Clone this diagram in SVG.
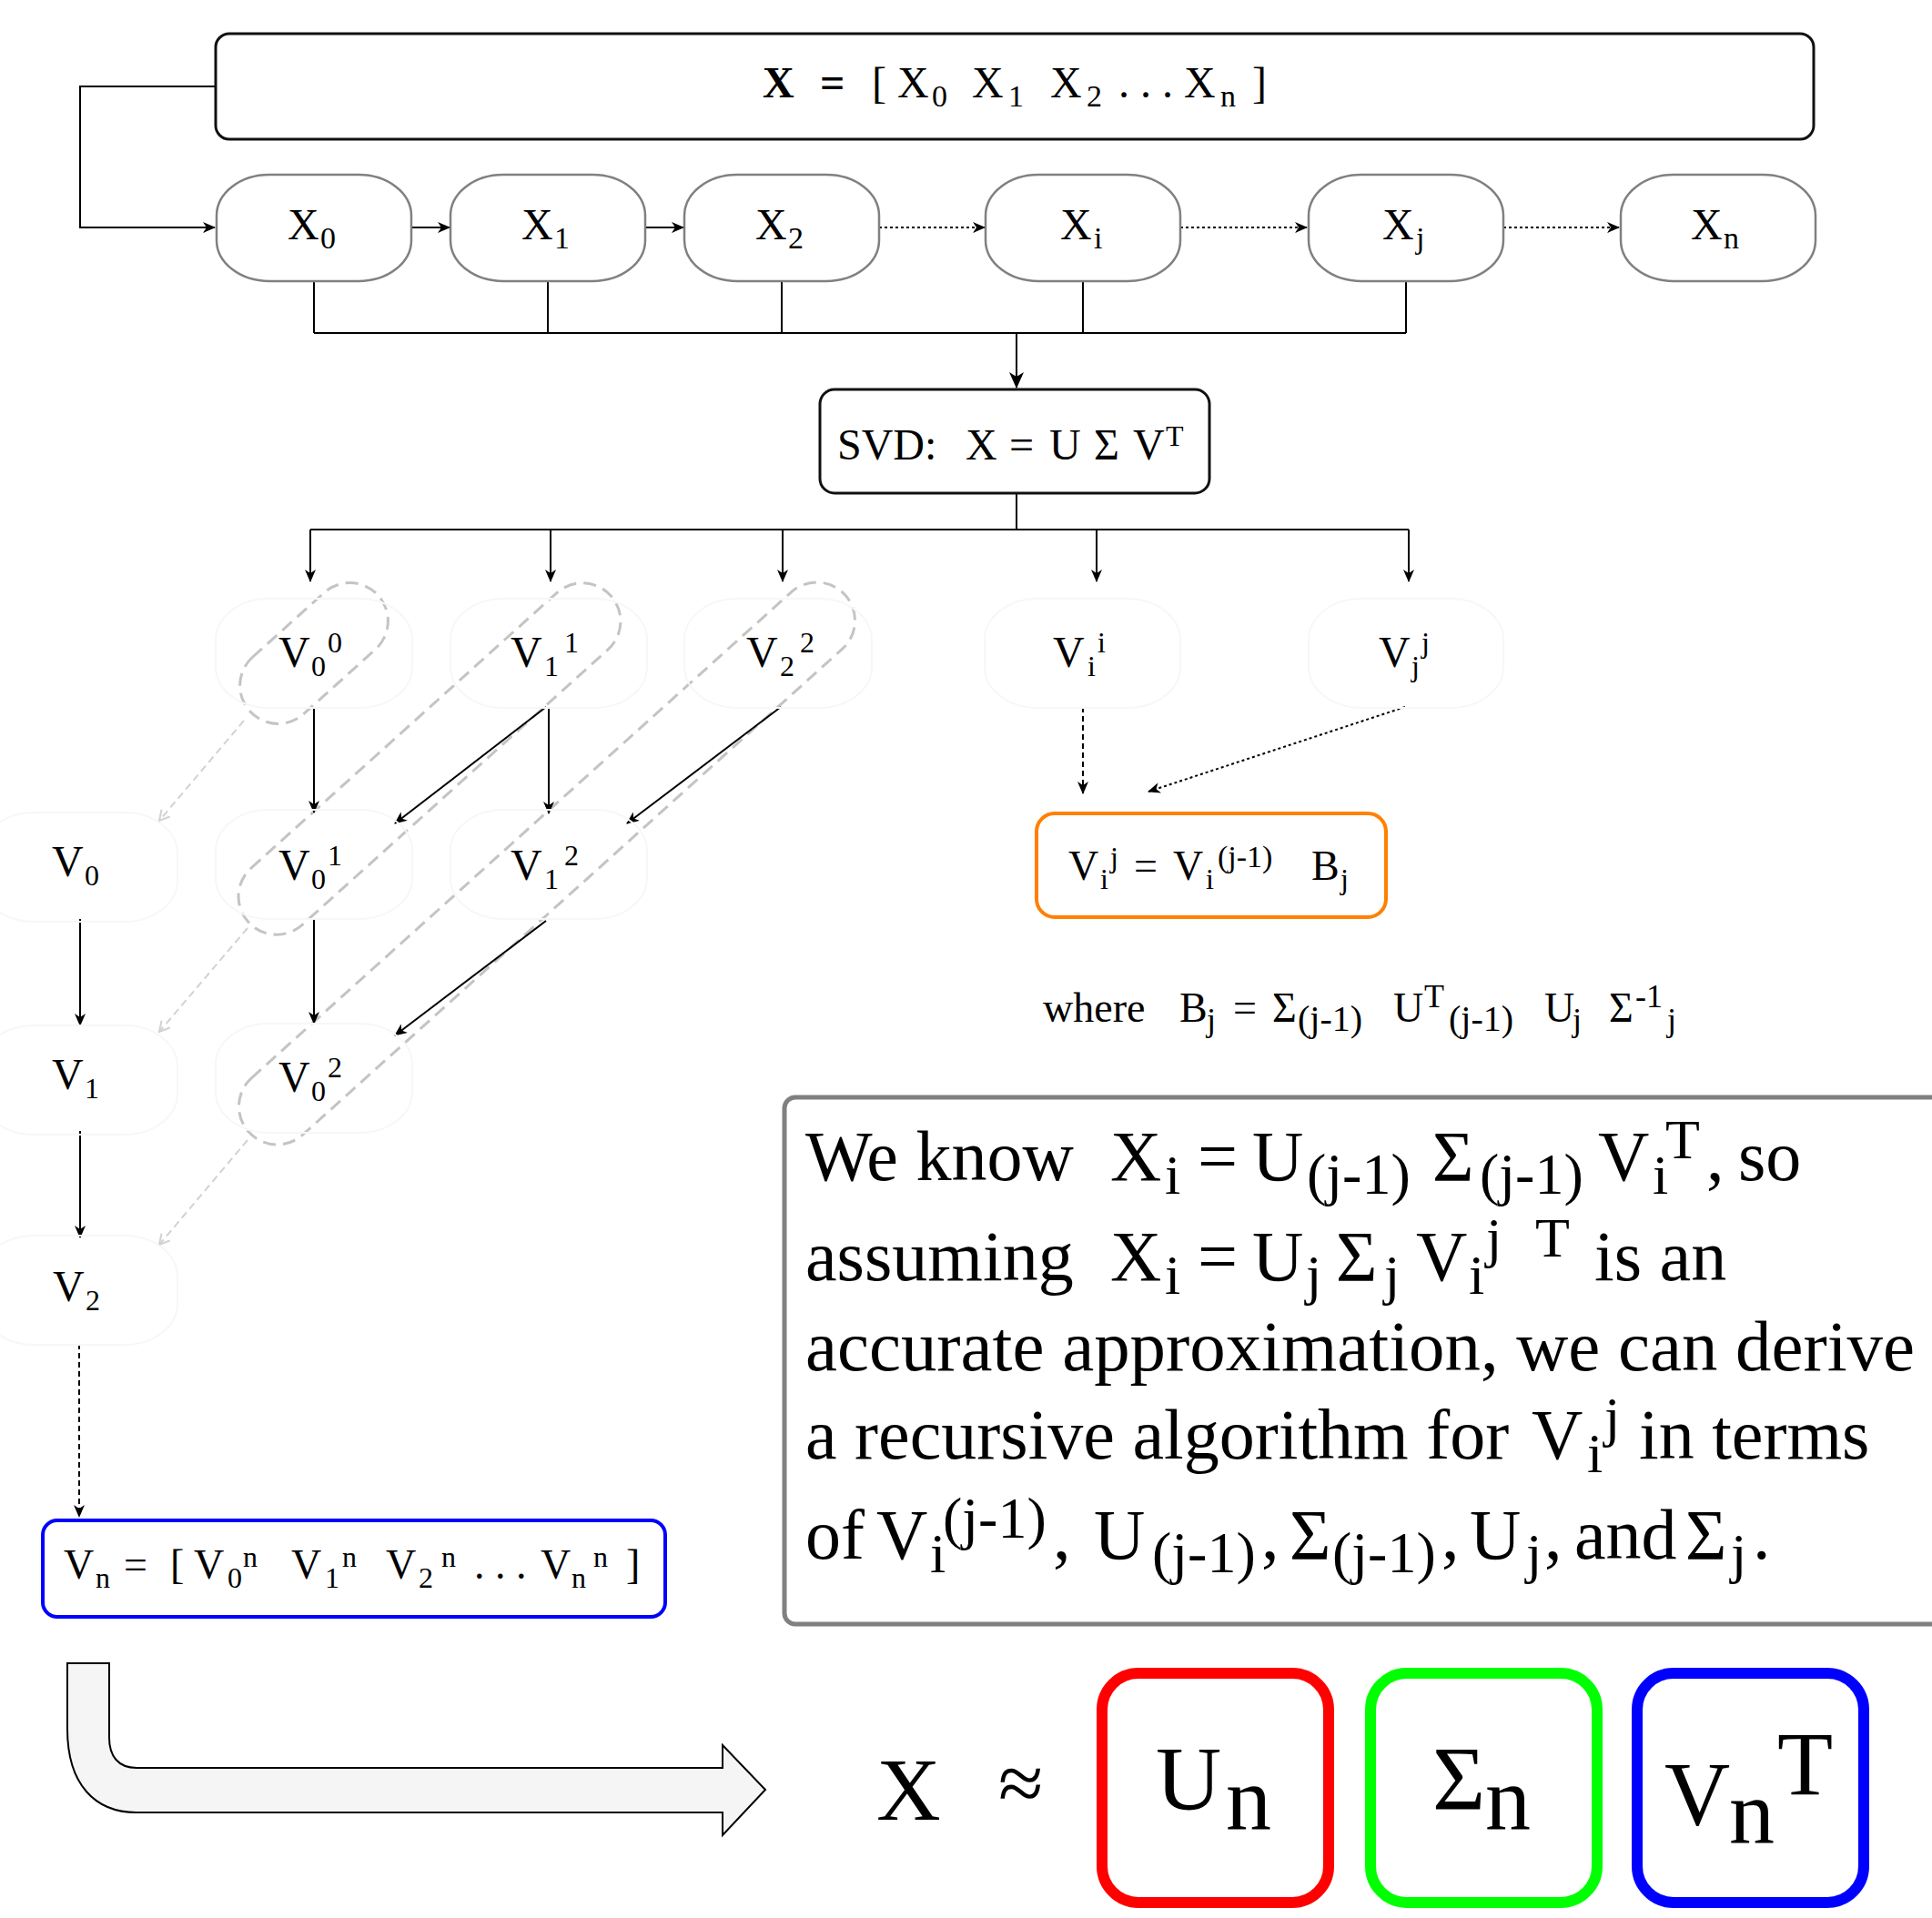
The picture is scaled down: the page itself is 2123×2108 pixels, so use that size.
<svg xmlns="http://www.w3.org/2000/svg" width="2123" height="2108" viewBox="0 0 2123 2108">
<style>
.t { font-family: "Liberation Serif", "Times New Roman", serif; fill: #000; }
.node { fill: #fff; stroke: #808080; stroke-width: 2.5; }
.ghost { fill: none; stroke: #f7f7f7; stroke-width: 2; }
.cap { fill: none; stroke: #c4c4c4; stroke-width: 3; stroke-dasharray: 14 8; }
.ln { fill: none; stroke: #000; stroke-width: 2; }
.dot { stroke-dasharray: 3 3; }
.dash { stroke-dasharray: 6 4; }
.lg { fill: none; stroke: #d2d2d2; stroke-width: 2; stroke-dasharray: 8 5; }
</style>
<defs>
<marker id="ah" viewBox="0 0 14 12" refX="13" refY="6" markerWidth="14" markerHeight="12" markerUnits="userSpaceOnUse" orient="auto"><path d="M0,0 L14,6 L0,12 L4,6 z" fill="#000"/></marker>
<marker id="ahb" viewBox="0 0 18 16" refX="17" refY="8" markerWidth="18" markerHeight="16" markerUnits="userSpaceOnUse" orient="auto"><path d="M0,0 L18,8 L0,16 L5,8 z" fill="#000"/></marker>
<marker id="ahg" viewBox="0 0 14 14" refX="12" refY="7" markerWidth="14" markerHeight="14" markerUnits="userSpaceOnUse" orient="auto"><path d="M1,1 L12,7 L1,13" fill="none" stroke="#d2d2d2" stroke-width="2"/></marker>
</defs>
<rect width="2123" height="2108" fill="#fff"/>

<!-- dashed grouping capsules -->
<g id="groups">
<rect class="cap" x="-95" y="-42" width="190" height="84" rx="42" transform="translate(345,718) rotate(-42)"/>
<rect class="cap" x="-268" y="-42" width="536" height="84" rx="42" transform="translate(472,834) rotate(-42)"/>
<rect class="cap" x="-441" y="-42" width="882" height="84" rx="42" transform="translate(601,949) rotate(-42)"/>
</g>

<g id="connectors">
<path class="ln" d="M237,95 H88 V250 H236" marker-end="url(#ah)"/>
<path class="ln" d="M452,250 H494" marker-end="url(#ah)"/>
<path class="ln" d="M708,250 H751" marker-end="url(#ah)"/>
<path class="ln dot" d="M966,250 H1082" marker-end="url(#ah)"/>
<path class="ln dot" d="M1297,250 H1436" marker-end="url(#ah)"/>
<path class="ln dot" d="M1652,250 H1779" marker-end="url(#ah)"/>
<path class="ln" stroke-width="1.6" d="M345,310 V366 M602,310 V366 M859,310 V366 M1190,310 V366 M1545,310 V366 M345,366 H1545"/>
<path class="ln" stroke-width="3" d="M1117,366 V426" marker-end="url(#ahb)"/>
<path class="ln" d="M1117,543 V582 M341,582 H1548"/>
<path class="ln" d="M341,582 V639" marker-end="url(#ah)"/>
<path class="ln" d="M605,582 V639" marker-end="url(#ah)"/>
<path class="ln" d="M860,582 V639" marker-end="url(#ah)"/>
<path class="ln" d="M1205,582 V639" marker-end="url(#ah)"/>
<path class="ln" d="M1548,582 V639" marker-end="url(#ah)"/>
<path class="ln" d="M345,778 V893" marker-end="url(#ah)"/>
<path class="ln" d="M603,778 V894" marker-end="url(#ah)"/>
<path class="ln" d="M600,777 L434,905" marker-end="url(#ah)"/>
<path class="ln" d="M858,777 L689,905" marker-end="url(#ah)"/>
<path class="ln" d="M345,1010 V1125" marker-end="url(#ah)"/>
<path class="ln" d="M600,1012 L434,1138" marker-end="url(#ah)"/>
<path class="ln" d="M88,1010 V1127" marker-end="url(#ah)"/>
<path class="ln" d="M88,1243 V1360" marker-end="url(#ah)"/>
<path class="ln dash" stroke-width="1.6" d="M87,1477 V1667" marker-end="url(#ah)"/>
<path class="ln dash" stroke-width="1.6" d="M1190,777 V872" marker-end="url(#ah)"/>
<path class="ln dot" d="M1544,777 L1262,870" marker-end="url(#ah)"/>
<path class="lg" d="M268,792 L175,902" marker-end="url(#ahg)"/>
<path class="lg" d="M272,1020 L175,1134" marker-end="url(#ahg)"/>
<path class="lg" d="M272,1253 L175,1368" marker-end="url(#ahg)"/>
</g>

<g id="node-X">
<rect x="237" y="37" width="1756" height="116" rx="15" fill="#fff" stroke="#111" stroke-width="3"/>
<text class="t" font-size="48"><tspan x="838" y="107" font-weight="bold">X</tspan><tspan x="901" y="107" font-weight="bold">=</tspan><tspan x="958" y="107">[</tspan><tspan x="986" y="107">X</tspan><tspan x="1024" y="117" font-size="34">0</tspan><tspan x="1068" y="107">X</tspan><tspan x="1108" y="117" font-size="34">1</tspan><tspan x="1154" y="107">X</tspan><tspan x="1194" y="117" font-size="34">2</tspan><tspan x="1229" y="107">. . .</tspan><tspan x="1301" y="107">X</tspan><tspan x="1341" y="117" font-size="34">n</tspan><tspan x="1376" y="107">]</tspan></text>
</g>

<g id="node-X0"><rect class="node" x="238" y="192" width="214" height="117" rx="58" ry="45"/><text class="t" font-size="48"><tspan x="316" y="263">X</tspan><tspan x="352" y="273" font-size="34">0</tspan></text></g>
<g id="node-X1"><rect class="node" x="495" y="192" width="214" height="117" rx="58" ry="45"/><text class="t" font-size="48"><tspan x="573" y="263">X</tspan><tspan x="609" y="273" font-size="34">1</tspan></text></g>
<g id="node-X2"><rect class="node" x="752" y="192" width="214" height="117" rx="58" ry="45"/><text class="t" font-size="48"><tspan x="830" y="263">X</tspan><tspan x="866" y="273" font-size="34">2</tspan></text></g>
<g id="node-Xi"><rect class="node" x="1083" y="192" width="214" height="117" rx="58" ry="45"/><text class="t" font-size="48"><tspan x="1165" y="263">X</tspan><tspan x="1202" y="273" font-size="34">i</tspan></text></g>
<g id="node-Xj"><rect class="node" x="1438" y="192" width="214" height="117" rx="58" ry="45"/><text class="t" font-size="48"><tspan x="1519" y="263">X</tspan><tspan x="1556" y="273" font-size="34">j</tspan></text></g>
<g id="node-Xn"><rect class="node" x="1781" y="192" width="214" height="117" rx="58" ry="45"/><text class="t" font-size="48"><tspan x="1858" y="263">X</tspan><tspan x="1894" y="273" font-size="34">n</tspan></text></g>

<g id="node-SVD">
<rect x="901" y="428" width="428" height="114" rx="16" fill="#fff" stroke="#111" stroke-width="3"/>
<text class="t" font-size="48"><tspan x="920" y="505">SVD:</tspan><tspan x="1061" y="505">X</tspan><tspan x="1109" y="505">=</tspan><tspan x="1153" y="505">U</tspan><tspan x="1202" y="505">Σ</tspan><tspan x="1245" y="505">V</tspan><tspan x="1281" y="490" font-size="32">T</tspan></text>
</g>

<g id="node-V00"><rect class="ghost" x="237" y="658" width="216" height="120" rx="58" ry="45"/><text class="t" font-size="48"><tspan x="306" y="733">V</tspan><tspan x="342" y="743" font-size="32">0</tspan><tspan x="360" y="717" font-size="32">0</tspan></text></g>
<g id="node-V11"><rect class="ghost" x="495" y="658" width="216" height="120" rx="58" ry="45"/><text class="t" font-size="48"><tspan x="561" y="733">V</tspan><tspan x="598" y="743" font-size="32">1</tspan><tspan x="620" y="717" font-size="32">1</tspan></text></g>
<g id="node-V22"><rect class="ghost" x="752" y="658" width="206" height="120" rx="58" ry="45"/><text class="t" font-size="48"><tspan x="820" y="733">V</tspan><tspan x="857" y="743" font-size="32">2</tspan><tspan x="879" y="717" font-size="32">2</tspan></text></g>
<g id="node-Vii"><rect class="ghost" x="1082" y="658" width="215" height="120" rx="58" ry="45"/><text class="t" font-size="48"><tspan x="1157" y="733">V</tspan><tspan x="1195" y="743" font-size="32">i</tspan><tspan x="1206" y="717" font-size="32">i</tspan></text></g>
<g id="node-Vjj"><rect class="ghost" x="1438" y="658" width="214" height="120" rx="58" ry="45"/><text class="t" font-size="48"><tspan x="1515" y="733">V</tspan><tspan x="1551" y="743" font-size="32">j</tspan><tspan x="1562" y="717" font-size="32">j</tspan></text></g>
<g id="node-V0"><rect class="ghost" x="-21" y="893" width="216" height="120" rx="58" ry="45"/><text class="t" font-size="48"><tspan x="57" y="963">V</tspan><tspan x="93" y="973" font-size="32">0</tspan></text></g>
<g id="node-V01"><rect class="ghost" x="237" y="890" width="216" height="120" rx="58" ry="45"/><text class="t" font-size="48"><tspan x="306" y="967">V</tspan><tspan x="342" y="977" font-size="32">0</tspan><tspan x="360" y="951" font-size="32">1</tspan></text></g>
<g id="node-V12"><rect class="ghost" x="495" y="890" width="216" height="120" rx="58" ry="45"/><text class="t" font-size="48"><tspan x="561" y="967">V</tspan><tspan x="598" y="977" font-size="32">1</tspan><tspan x="620" y="951" font-size="32">2</tspan></text></g>
<g id="node-V1"><rect class="ghost" x="-21" y="1127" width="216" height="120" rx="58" ry="45"/><text class="t" font-size="48"><tspan x="57" y="1197">V</tspan><tspan x="93" y="1207" font-size="32">1</tspan></text></g>
<g id="node-V02"><rect class="ghost" x="237" y="1125" width="216" height="120" rx="58" ry="45"/><text class="t" font-size="48"><tspan x="306" y="1200">V</tspan><tspan x="342" y="1210" font-size="32">0</tspan><tspan x="360" y="1184" font-size="32">2</tspan></text></g>
<g id="node-V2"><rect class="ghost" x="-21" y="1358" width="216" height="120" rx="58" ry="45"/><text class="t" font-size="48"><tspan x="58" y="1430">V</tspan><tspan x="94" y="1440" font-size="32">2</tspan></text></g>

<g id="node-Vn">
<rect x="47" y="1671" width="684" height="106" rx="16" fill="#fff" stroke="#0000ff" stroke-width="4"/>
<text class="t" font-size="46"><tspan x="70" y="1735">V</tspan><tspan x="105" y="1745" font-size="32">n</tspan><tspan x="136" y="1735">=</tspan><tspan x="187" y="1735">[</tspan><tspan x="213" y="1735">V</tspan><tspan x="250" y="1745" font-size="32">0</tspan><tspan x="267" y="1722" font-size="32">n</tspan><tspan x="320" y="1735">V</tspan><tspan x="357" y="1745" font-size="32">1</tspan><tspan x="376" y="1722" font-size="32">n</tspan><tspan x="424" y="1735">V</tspan><tspan x="460" y="1745" font-size="32">2</tspan><tspan x="485" y="1722" font-size="32">n</tspan><tspan x="521" y="1735">. . .</tspan><tspan x="594" y="1735">V</tspan><tspan x="628" y="1745" font-size="32">n</tspan><tspan x="652" y="1722" font-size="32">n</tspan><tspan x="688" y="1735">]</tspan></text>
</g>

<g id="node-update">
<rect x="1139" y="894" width="384" height="114" rx="20" fill="#fff" stroke="#ff8000" stroke-width="4"/>
<text class="t" font-size="46"><tspan x="1174" y="967">V</tspan><tspan x="1209" y="977" font-size="32">i</tspan><tspan x="1220" y="953" font-size="32">j</tspan><tspan x="1246" y="967">=</tspan><tspan x="1289" y="967">V</tspan><tspan x="1325" y="977" font-size="32">i</tspan><tspan x="1338" y="953" font-size="34">(j-1)</tspan><tspan x="1441" y="967">B</tspan><tspan x="1473" y="977" font-size="32">j</tspan></text>
</g>

<g id="node-where">
<text class="t" font-size="46"><tspan x="1146" y="1123">where</tspan><tspan x="1296" y="1123">B</tspan><tspan x="1326" y="1133" font-size="36">j</tspan><tspan x="1355" y="1123">=</tspan><tspan x="1398" y="1123">Σ</tspan><tspan x="1426" y="1133" font-size="40">(j-1)</tspan><tspan x="1531" y="1123">U</tspan><tspan x="1565" y="1107" font-size="36">T</tspan><tspan x="1592" y="1133" font-size="40">(j-1)</tspan><tspan x="1697" y="1123">U</tspan><tspan x="1728" y="1133" font-size="36">j</tspan><tspan x="1768" y="1123">Σ</tspan><tspan x="1797" y="1107" font-size="36">-1</tspan><tspan x="1832" y="1133" font-size="36">j</tspan></text>
</g>

<g id="node-explanation">
<rect x="862" y="1206" width="1290" height="579" rx="12" fill="#fff" stroke="#808080" stroke-width="5"/>
<text class="t" font-size="78"><tspan x="885" y="1297">We know</tspan><tspan x="1220" y="1297">X</tspan><tspan x="1280" y="1312" font-size="62">i</tspan><tspan x="1316" y="1297">=</tspan><tspan x="1376" y="1297">U</tspan><tspan x="1436" y="1312" font-size="64">(j-1)</tspan><tspan x="1574" y="1297">Σ</tspan><tspan x="1626" y="1312" font-size="64">(j-1)</tspan><tspan x="1756" y="1297">V</tspan><tspan x="1816" y="1312" font-size="62">i</tspan><tspan x="1830" y="1273" font-size="62">T</tspan><tspan x="1875" y="1297">,</tspan><tspan x="1910" y="1297">so</tspan></text>
<text class="t" font-size="78"><tspan x="885" y="1407">assuming</tspan><tspan x="1220" y="1407">X</tspan><tspan x="1280" y="1422" font-size="62">i</tspan><tspan x="1316" y="1407">=</tspan><tspan x="1376" y="1407">U</tspan><tspan x="1435" y="1422" font-size="62">j</tspan><tspan x="1468" y="1407">Σ</tspan><tspan x="1521" y="1422" font-size="62">j</tspan><tspan x="1556" y="1407">V</tspan><tspan x="1614" y="1422" font-size="62">i</tspan><tspan x="1633" y="1381" font-size="62">j</tspan><tspan x="1687" y="1381" font-size="62">T</tspan><tspan x="1752" y="1407">is an</tspan></text>
<text class="t" font-size="78" x="885" y="1506" textLength="1219" lengthAdjust="spacingAndGlyphs">accurate approximation, we can derive</text>
<text class="t" font-size="78"><tspan x="885" y="1603">a recursive algorithm for</tspan><tspan x="1683" y="1603">V</tspan><tspan x="1744" y="1618" font-size="62">i</tspan><tspan x="1763" y="1578" font-size="62">j</tspan><tspan x="1801" y="1603">in terms</tspan></text>
<text class="t" font-size="78"><tspan x="885" y="1713">of</tspan><tspan x="963" y="1713">V</tspan><tspan x="1022" y="1728" font-size="62">i</tspan><tspan x="1036" y="1690" font-size="64">(j-1)</tspan><tspan x="1157" y="1713">,</tspan><tspan x="1202" y="1713">U</tspan><tspan x="1266" y="1728" font-size="64">(j-1)</tspan><tspan x="1386" y="1713">,</tspan><tspan x="1417" y="1713">Σ</tspan><tspan x="1464" y="1728" font-size="64">(j-1)</tspan><tspan x="1584" y="1713">,</tspan><tspan x="1615" y="1713">U</tspan><tspan x="1677" y="1728" font-size="62">j</tspan><tspan x="1697" y="1713">,</tspan><tspan x="1730" y="1713">and</tspan><tspan x="1852" y="1713">Σ</tspan><tspan x="1902" y="1728" font-size="62">j</tspan><tspan x="1926" y="1713">.</tspan></text>
</g>

<g id="big-arrow">
<path d="M74,1828 H120 V1910 C120,1930 130,1943 150,1943 H794 V1918 L841,1967 L794,2017 V1992 H150 C105,1992 74,1962 74,1900 Z" fill="#f5f5f5" stroke="#000" stroke-width="2"/>
</g>

<g id="node-result">
<text class="t" font-size="98" x="963" y="2000">X</text>
<text class="t" font-size="90" x="1097" y="1990" fill="#333">≈</text>
</g>
<g id="node-Un">
<rect x="1211" y="1839" width="249" height="252" rx="40" fill="#fff" stroke="#ff0000" stroke-width="12"/>
<text class="t" font-size="100"><tspan x="1270" y="1988">U</tspan><tspan x="1347" y="2010">n</tspan></text>
</g>
<g id="node-Sn">
<rect x="1506" y="1839" width="249" height="252" rx="40" fill="#fff" stroke="#00ff00" stroke-width="12"/>
<text class="t" font-size="100"><tspan x="1574" y="1988">Σ</tspan><tspan x="1632" y="2010">n</tspan></text>
</g>
<g id="node-VnT">
<rect x="1799" y="1839" width="249" height="252" rx="40" fill="#fff" stroke="#0000ff" stroke-width="12"/>
<text class="t" font-size="100"><tspan x="1829" y="2005">V</tspan><tspan x="1900" y="2025">n</tspan><tspan x="1953" y="1972">T</tspan></text>
</g>
</svg>
